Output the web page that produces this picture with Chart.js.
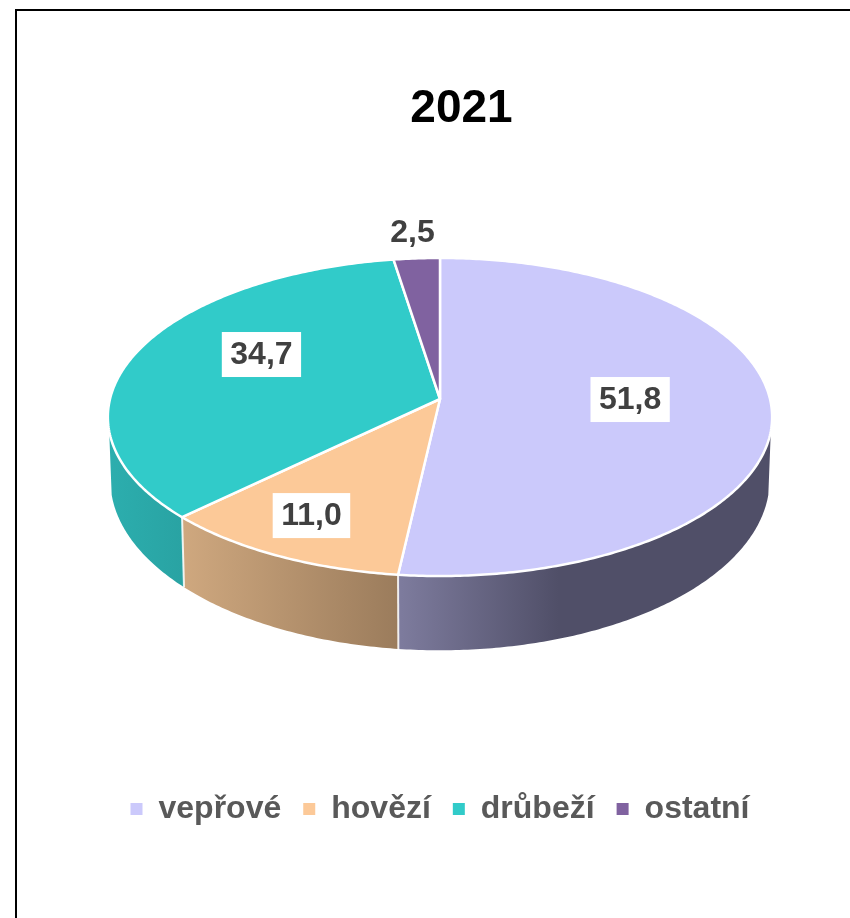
<!DOCTYPE html>
<html>
<head>
<meta charset="utf-8">
<title>2021</title>
<script src="https://cdn.jsdelivr.net/npm/chart.js@4/dist/chart.umd.min.js"></script>
<style>
  html, body { margin: 0; padding: 0; background: #fff; overflow: hidden; }
  #frame { position: absolute; left: 15px; top: 9px; width: 900px; height: 1000px;
           border-top: 2px solid #000; border-left: 2px solid #000; }
  canvas { position: absolute; left: 0; top: 0; }
</style>
</head>
<body>
<canvas id="myChart" width="850" height="918"></canvas>
<div id="frame"></div>
<script>
const chartTitle = "2021";
const categories = ["vepřové", "hovězí", "drůbeží", "ostatní"];
const values = [51.8, 11.0, 34.7, 2.5];

const sliceColors = ["#CBC9FB", "#FCC998", "#31CBC9", "#8062A0"];
const wallStops = [
    [[0, "#7E7C9E"], [0.43, "#504F68"], [1, "#504F68"]],
    [[0, "#CFA87F"], [1, "#9B7C5C"]],
    [[0, "#2CAEAE"], [1, "#29A3A3"]],
    [[0, "#503E66"], [1, "#503E66"]]
];

// label placement: radius along the slice middle, then a small nudge
const labelRadius = [0.575, 0.77, 0.57, 1.21];
const labelNudge = [[0, -4.6], [-6.5, -1], [-3.8, -16.6], [0, 0]];
const labelBox = [true, true, true, false];

// perspective of the disc, top face and bottom face
const persp = 0.1132;
const topFace = { cx: 440, cy: 399, a: 330, b: 157 };
const bottomFace = { cx: 440, cy: 460.5, a: 327.5, b: 168.3 };
const frontLimit = 0.2;

function project(face, angle, r) {
    const u = r * Math.cos(angle);
    const v = r * Math.sin(angle);
    const d = 1 - persp * v;
    return { x: face.cx + face.a * u / d, y: face.cy + face.b * v / d };
}

function traceArc(ctx, face, from, to, first) {
    const steps = Math.max(2, Math.ceil(Math.abs(to - from) * 90));
    for (let i = 0; i <= steps; i++) {
        const p = project(face, from + (to - from) * i / steps, 1);
        if (i === 0 && first) ctx.moveTo(p.x, p.y);
        else ctx.lineTo(p.x, p.y);
    }
}

const pie3d = {
    id: "pie3d",
    afterLayout(chart) {
        // title sits further right than the legend in the original
        chart.titleBlock.left += 43;
    },
    beforeDatasetDraw(chart) {
        const ctx = chart.ctx;
        const arcs = chart.getDatasetMeta(0).data;
        const minA = Math.asin(frontLimit);
        const maxA = Math.PI - minA;
        ctx.save();
        ctx.lineJoin = "round";

        arcs.forEach((arc, i) => {
            const lo = Math.max(arc.startAngle, minA);
            const hi = Math.min(arc.endAngle, maxA);
            if (lo >= hi) return;
            const xa = project(topFace, lo, 1).x;
            const xb = project(topFace, hi, 1).x;
            const grad = ctx.createLinearGradient(Math.min(xa, xb), 0, Math.max(xa, xb), 0);
            wallStops[i].forEach(s => grad.addColorStop(s[0], s[1]));
            ctx.beginPath();
            traceArc(ctx, topFace, lo, hi, true);
            traceArc(ctx, bottomFace, hi, lo, false);
            ctx.closePath();
            ctx.fillStyle = grad;
            ctx.fill();
        });

        // seams between the walls
        arcs.forEach(arc => {
            if (arc.endAngle > maxA) return;
            if (arc.endAngle < minA) return;
            const a = project(topFace, arc.endAngle, 1);
            const b = project(bottomFace, arc.endAngle, 1);
            ctx.beginPath();
            ctx.moveTo(a.x, a.y);
            ctx.lineTo(b.x, b.y);
            ctx.strokeStyle = "rgba(255,255,255,0.85)";
            ctx.lineWidth = 2;
            ctx.stroke();
        });

        arcs.forEach((arc, i) => {
            ctx.beginPath();
            ctx.moveTo(topFace.cx, topFace.cy);
            traceArc(ctx, topFace, arc.startAngle, arc.endAngle, false);
            ctx.closePath();
            ctx.fillStyle = sliceColors[i];
            ctx.fill();
            ctx.strokeStyle = "#fff";
            ctx.lineWidth = 2.5;
            ctx.stroke();
        });
        ctx.restore();
        return false;
    },
    afterDatasetsDraw(chart) {
        const ctx = chart.ctx;
        const arcs = chart.getDatasetMeta(0).data;
        ctx.save();
        ctx.font = "bold 32px 'Liberation Sans'";
        ctx.textAlign = "center";
        ctx.textBaseline = "middle";
        arcs.forEach((arc, i) => {
            const mid = (arc.startAngle + arc.endAngle) / 2;
            const p = project(topFace, mid, labelRadius[i]);
            const x = p.x + labelNudge[i][0];
            const y = p.y + labelNudge[i][1];
            const text = values[i].toFixed(1).replace(".", ",");
            if (labelBox[i]) {
                const w = ctx.measureText(text).width + 17;
                ctx.fillStyle = "#fff";
                ctx.fillRect(x - w / 2, y - 22.5, w, 45);
            }
            ctx.fillStyle = "#404040";
            ctx.fillText(text, x, y + 1);
        });
        ctx.restore();
    }
};

new Chart("myChart", {
    type: "pie",
    data: {
        labels: categories,
        datasets: [{
            data: values,
            backgroundColor: sliceColors,
            borderWidth: 0
        }]
    },
    options: {
        responsive: false,
        animation: false,
        layout: { padding: { left: 30, bottom: 83 } },
        plugins: {
            title: {
                display: true,
                text: chartTitle,
                color: "#000",
                font: { family: "'Liberation Sans'", size: 46, weight: "bold" },
                padding: { top: 82, bottom: 10 }
            },
            legend: {
                position: "bottom",
                labels: {
                    boxWidth: 12,
                    boxHeight: 12,
                    padding: 22,
                    color: "#595959",
                    font: { family: "'Liberation Sans'", size: 32, weight: "bold" }
                }
            },
            tooltip: { enabled: false }
        }
    },
    plugins: [pie3d]
});
</script>
</body>
</html>
